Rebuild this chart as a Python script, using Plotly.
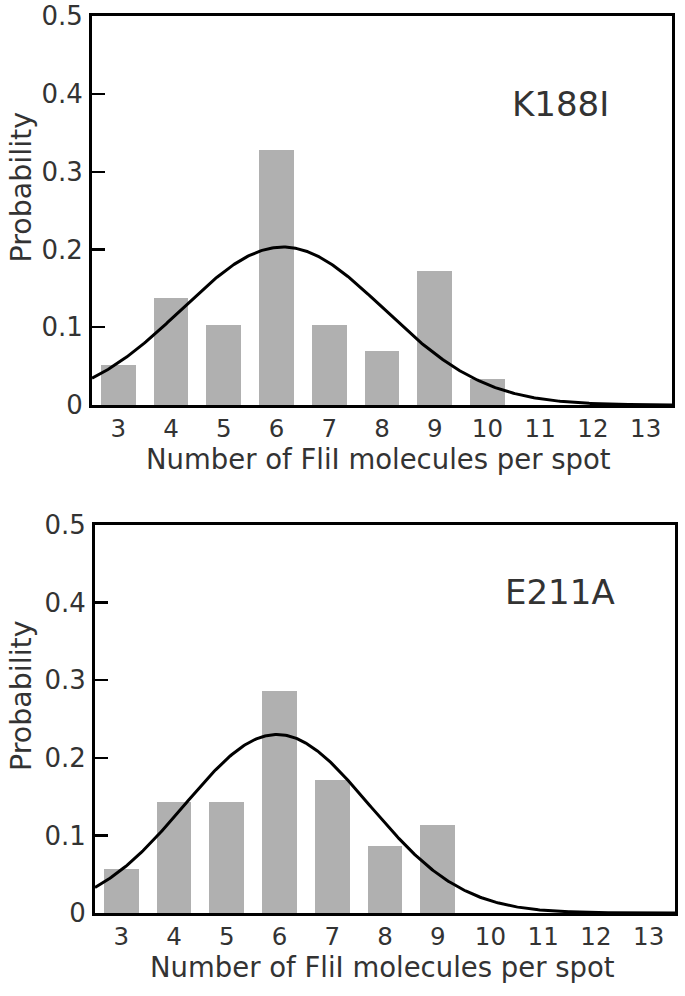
import numpy as np
import plotly.graph_objects as go

# ---- data ----
k188i_counts = [3, 4, 5, 6, 7, 8, 9, 10]
k188i_prob = [0.052, 0.138, 0.103, 0.328, 0.103, 0.069, 0.172, 0.034]
k188i_fit = dict(amp=0.203, mu=6.12, sigma=1.92)

e211a_counts = [3, 4, 5, 6, 7, 8, 9]
e211a_prob = [0.057, 0.143, 0.143, 0.286, 0.171, 0.086, 0.114]
e211a_fit = dict(amp=0.230, mu=5.95, sigma=1.75)

x_ticks = [3, 4, 5, 6, 7, 8, 9, 10, 11, 12, 13]
y_ticks = [0, 0.1, 0.2, 0.3, 0.4, 0.5]
y_ticklabels = ["0", "0.1", "0.2", "0.3", "0.4", "0.5"]
panel_labels = ["K188I", "E211A"]
x_title = "Number of FliI molecules per spot"
y_title = "Probability"

FONT = "DejaVu Sans"
TXT = "#333333"
BAR = "#b0b0b0"
W, H = 685, 996


def gauss(x, amp, mu, sigma):
    return amp * np.exp(-((x - mu) ** 2) / (2 * sigma ** 2))


xs = np.linspace(2.5, 13.5, 400)

fig = go.Figure()
fig.add_trace(go.Bar(x=k188i_counts, y=k188i_prob, width=0.66, marker=dict(color=BAR, line=dict(width=0)),
                     xaxis="x", yaxis="y", showlegend=False))
fig.add_trace(go.Scatter(x=xs, y=gauss(xs, **k188i_fit), mode="lines", line=dict(color="black", width=3),
                         xaxis="x", yaxis="y", showlegend=False))
fig.add_trace(go.Bar(x=e211a_counts, y=e211a_prob, width=0.66, marker=dict(color=BAR, line=dict(width=0)),
                     xaxis="x2", yaxis="y2", showlegend=False))
fig.add_trace(go.Scatter(x=xs, y=gauss(xs, **e211a_fit), mode="lines", line=dict(color="black", width=3),
                         xaxis="x2", yaxis="y2", showlegend=False))

# panel pixel boxes in screenshot coords (left, right, top, bottom)
top_box = (92, 672, 16, 405)
bot_box = (95, 675, 525, 913)


def px(x):
    return x / W


def py(y):
    return (H - y) / H


def xdom(b):
    return [px(b[0]), px(b[1])]


def ydom(b):
    return [py(b[3]), py(b[2])]


xcommon = dict(range=[2.5, 13.5], tickvals=x_ticks, ticks="", showline=True, mirror=True,
               linecolor="black", linewidth=3, showgrid=False, zeroline=False, automargin=False,
               tickfont=dict(family=FONT, size=24.5, color=TXT), ticklabelstandoff=0, fixedrange=True)
ycommon = dict(range=[0, 0.5], tickvals=y_ticks, ticktext=y_ticklabels, ticks="inside", ticklen=13,
               tickwidth=2.2, tickcolor="black", showline=True, mirror=True, linecolor="black",
               linewidth=3, showgrid=False, zeroline=False, automargin=False,
               tickfont=dict(family=FONT, size=26, color=TXT), ticklabelstandoff=1, fixedrange=True)

fig.update_layout(
    width=W, height=H, margin=dict(l=0, r=0, t=0, b=0, autoexpand=False),
    paper_bgcolor="white", plot_bgcolor="white", bargap=0,
    xaxis=dict(domain=xdom(top_box), anchor="y", **xcommon),
    yaxis=dict(domain=ydom(top_box), anchor="x", **ycommon),
    xaxis2=dict(domain=xdom(bot_box), anchor="y2", **xcommon),
    yaxis2=dict(domain=ydom(bot_box), anchor="x2", **ycommon),
)

annotations = []
for box, lab, lab_y in [(top_box, panel_labels[0], 104), (bot_box, panel_labels[1], 592)]:
    # panel label
    annotations.append(dict(x=px(560), y=py(lab_y), xref="paper", yref="paper", text=lab,
                            showarrow=False, xanchor="center", yanchor="middle",
                            font=dict(family=FONT, size=34, color=TXT)))
    # x title
    annotations.append(dict(x=px((box[0] + box[1]) / 2 - 3), y=py(box[3] + 54), xref="paper",
                            yref="paper", text=x_title, showarrow=False, xanchor="center",
                            yanchor="middle", font=dict(family=FONT, size=27.5, color=TXT)))
    # y title
    annotations.append(dict(x=px(21), y=py((box[2] + box[3]) / 2 - 23), xref="paper",
                            yref="paper", text=y_title, showarrow=False, textangle=-90,
                            xanchor="center", yanchor="middle",
                            font=dict(family=FONT, size=28.5, color=TXT)))
fig.update_layout(annotations=annotations)

fig.write_html("out.html", config={"displayModeBar": False, "staticPlot": True},
               post_script="document.body.style.margin='0px';")
